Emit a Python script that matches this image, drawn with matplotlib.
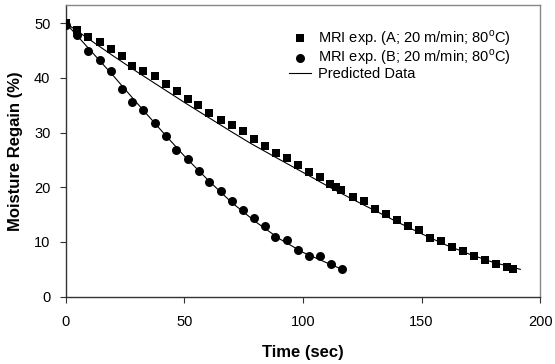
import numpy as np
import matplotlib.pyplot as plt

# data
t_a = [0, 4.9, 9.5, 14.3, 19.0, 23.6, 28.1, 32.7, 37.5, 42.1, 46.7, 51.4, 55.9,
       60.6, 65.4, 70.0, 74.7, 79.3, 83.9, 88.5, 93.1, 97.8, 102.5, 107.1, 111.6,
       114.1, 116.2, 121.0, 125.6, 130.2, 134.9, 139.5, 144.1, 148.9, 153.7,
       158.3, 162.8, 167.5, 172.2, 176.8, 181.5, 186.0, 188.5]
mr_a = [50.0, 48.7, 47.5, 46.6, 45.2, 44.0, 42.2, 41.3, 40.3, 38.8, 37.6, 36.1,
        35.0, 33.6, 32.3, 31.3, 30.3, 28.8, 27.5, 26.2, 25.4, 24.1, 22.8, 21.8,
        20.6, 20.0, 19.5, 18.2, 17.5, 16.1, 15.2, 14.1, 12.9, 12.1, 10.7, 10.1,
        9.0, 8.3, 7.4, 6.7, 6.0, 5.4, 5.1]

t_b = [0, 4.9, 9.5, 14.3, 19.0, 23.6, 28.1, 32.7, 37.5, 42.1, 46.6, 51.5, 56.1,
       60.6, 65.3, 69.9, 74.7, 79.3, 83.9, 88.4, 93.1, 97.8, 102.5, 107.1,
       111.7, 116.5]
mr_b = [49.6, 47.9, 44.9, 43.2, 41.2, 37.9, 35.6, 34.1, 31.7, 29.3, 26.8, 25.1,
        23.0, 21.0, 19.4, 17.5, 15.9, 14.4, 13.0, 10.9, 10.4, 8.6, 7.4, 7.4,
        6.0, 5.0]

# predicted curves
tp_a = [0, 10, 20, 30, 40, 50, 60, 70, 78, 90, 103, 110, 120, 130, 140, 150,
        160, 170, 180, 191.6]
pred_a = [50.0, 47.0, 44.0, 41.1, 38.3, 35.5, 32.8, 30.1, 28.0, 25.1, 22.0,
          20.3, 18.0, 15.8, 13.6, 11.5, 9.5, 7.8, 6.3, 5.0]
tp_b = [0, 10, 20, 30, 40, 50, 60, 70, 80, 90, 100, 110, 116.5]
pred_b = [50.0, 45.2, 40.4, 35.4, 30.5, 25.7, 21.3, 17.2, 13.7, 10.6, 8.1,
          6.2, 5.0]

plt.rcParams['font.family'] = ['Liberation Sans', 'DejaVu Sans']
plt.rcParams['mathtext.fontset'] = 'custom'
plt.rcParams['mathtext.rm'] = 'Liberation Sans'

fig = plt.figure(figsize=(5.55, 3.64), dpi=100)
ax = fig.add_axes([0.1184, 0.1849, 0.855, 0.8014])

ax.plot(tp_a, pred_a, color='black', lw=0.8, label='Predicted Data', zorder=2)
ax.plot(tp_b, pred_b, color='black', lw=0.8, zorder=2)
ax.scatter(t_a, mr_a, marker='s', s=32, color='black', lw=0, zorder=3,
           label='MRI exp. (A; 20 m/min; 80$^\\mathregular{o}$C)')
ax.scatter(t_b, mr_b, marker='o', s=42, color='black', lw=0, zorder=3,
           label='MRI exp. (B; 20 m/min; 80$^\\mathregular{o}$C)')

ax.set_xlim(0, 200)
ax.set_ylim(0, 53.3)
ax.set_xticks([0, 50, 100, 150, 200])
ax.set_yticks([0, 10, 20, 30, 40, 50])
ax.tick_params(direction='out', length=4, width=0.8, labelsize=10.5,
               color='#333333')
ax.tick_params(axis='x', pad=9)
ax.tick_params(axis='y', pad=7)

for side in ['left', 'bottom']:
    ax.spines[side].set_color('#333333')
    ax.spines[side].set_linewidth(1.0)
for side in ['top', 'right']:
    ax.spines[side].set_color('#888888')
    ax.spines[side].set_linewidth(1.0)

ax.set_xlabel('Time (sec)', fontsize=12, fontweight='bold', labelpad=12)
ax.set_ylabel('Moisture Regain (%)', fontsize=12, fontweight='bold',
              labelpad=8)

handles, labels = ax.get_legend_handles_labels()
order = [1, 2, 0]
ax.legend([handles[i] for i in order], [labels[i] for i in order],
          loc='upper left', bbox_to_anchor=(289 / 555, 1 - 28 / 364),
          bbox_transform=fig.transFigure, frameon=False, fontsize=10.5,
          handlelength=1.5, handletextpad=0.5, labelspacing=0.0,
          borderpad=0, borderaxespad=0)

fig.savefig('out.png', dpi=100)
